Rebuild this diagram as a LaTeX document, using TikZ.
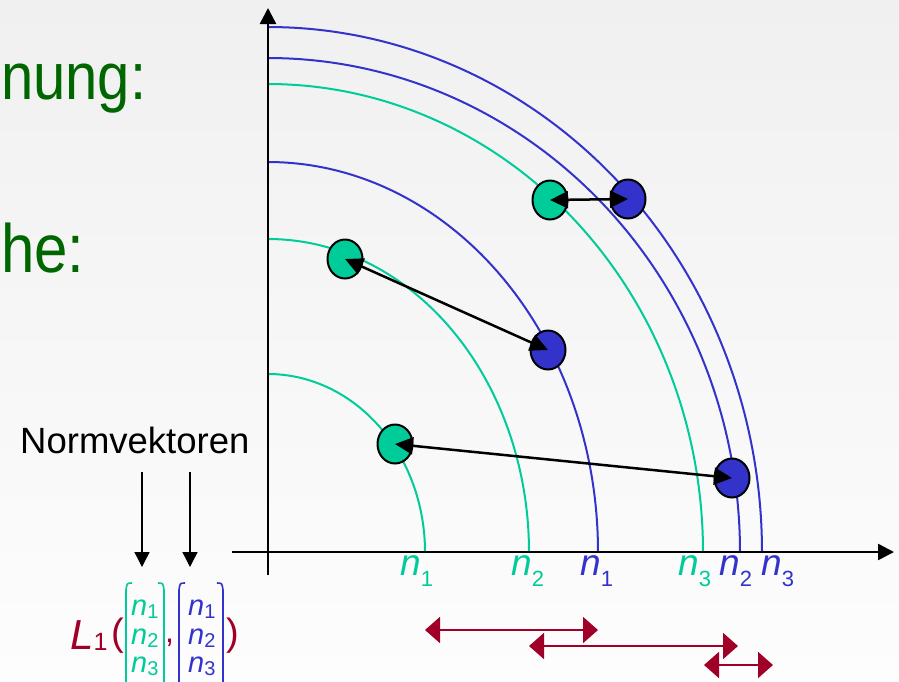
\documentclass[tikz,border=0pt]{standalone}
\usepackage{fontspec}
\setmainfont{Liberation Sans}
\usepackage{graphicx}
\usetikzlibrary{arrows.meta,shapes.geometric}
\definecolor{tealc}{HTML}{00CC99}
\definecolor{bluec}{HTML}{3333CC}
\definecolor{redc}{HTML}{A00028}
\definecolor{greentxt}{HTML}{006600}
\definecolor{bgtop}{HTML}{F0F0F0}
\definecolor{bgbot}{HTML}{FDFDFD}
\newcommand{\axlab}[1]{{\fontsize{37}{40}\selectfont\itshape n}{\fontsize{22}{24}\selectfont\raisebox{-11pt}{#1}}}
\newcommand{\vlab}[1]{{\fontsize{29}{30}\selectfont\itshape n}{\fontsize{20}{22}\selectfont\raisebox{-3pt}{#1}}}
\begin{document}
\begin{tikzpicture}[x=1pt,y=-1pt,
  arcg/.style={tealc, line width=2pt},
  arcb/.style={bluec, line width=2pt},
  gdot/.style={ellipse, draw=black, line width=2pt, fill=tealc, minimum width=35pt, minimum height=39pt, inner sep=0pt},
  bdot/.style={ellipse, draw=black, line width=2pt, fill=bluec, minimum width=35pt, minimum height=39pt, inner sep=0pt},
  conn/.style={black, line width=2.5pt, {Triangle[length=18pt,width=17pt]}-{Triangle[length=18pt,width=17pt]}},
  axis/.style={black, line width=2.5pt, -{Triangle[length=16pt,width=16pt]}},
  down/.style={black, line width=1.4pt, -{Triangle[length=15pt,width=15pt]}},
  redarr/.style={redc, line width=2pt, {Triangle[length=15pt,width=26pt]}-{Triangle[length=15pt,width=26pt]}},
  lab/.style={anchor=base west, inner sep=0pt}
]
\useasboundingbox (0,0) rectangle (899,681);
\clip (0,0) rectangle (899,681);
\shade[top color=bgtop, bottom color=bgbot] (0,0) rectangle (899,681);

% arcs
\draw[arcg] plot[domain=0:90,samples=90,smooth] ({268+157*cos(\x)},{552-178*sin(\x)});
\draw[arcg] plot[domain=0:90,samples=90,smooth] ({268+261*cos(\x)},{552-313*sin(\x)});
\draw[arcb] plot[domain=0:90,samples=90,smooth] ({268+330*cos(\x)},{552-390*sin(\x)});
\draw[arcg] plot[domain=0:90,samples=90,smooth] ({268+435*cos(\x)},{552-468*sin(\x)});
\draw[arcb] plot[domain=0:90,samples=90,smooth] ({268+472*cos(\x)},{552-494*sin(\x)});
\draw[arcb] plot[domain=0:90,samples=90,smooth] ({268+494*cos(\x)},{552-525*sin(\x)});

% axes
\coordinate (yb) at (268,575);
\coordinate (yt) at (268,8);
\coordinate (xl) at (232,552);
\coordinate (xr) at (894,552);
\draw[axis] (yb) -- (yt);
\draw[axis] (xl) -- (xr);

% axis labels
\node[lab, text=tealc] (ln1g) at (400,575) {\axlab{1}};
\node[lab, text=tealc] (ln2g) at (511,575) {\axlab{2}};
\node[lab, text=bluec] (ln1b) at (580,575) {\axlab{1}};
\node[lab, text=tealc] (ln3g) at (678,575) {\axlab{3}};
\node[lab, text=bluec] (ln2b) at (719,575) {\axlab{2}};
\node[lab, text=bluec] (ln3b) at (761,575) {\axlab{3}};

% dots
\node[gdot] (g1) at (550,200) {};
\node[bdot] (b1) at (628,199) {};
\node[gdot] (g2) at (345,259) {};
\node[bdot] (b2) at (548,350) {};
\node[gdot] (g3) at (395,444) {};
\node[bdot] (b3) at (732,478) {};
\draw[conn] (g1.center) -- (b1.center);
\draw[conn] (g2.center) -- (b2.center);
\draw[conn] (g3.center) -- (b3.center);

% left texts
\node[anchor=base west, inner sep=0pt, text=greentxt] (t1) at (1,99) {\scalebox{1}[1.14]{\fontsize{58}{60}\selectfont nung:}};
\node[anchor=base west, inner sep=0pt, text=greentxt] (t2) at (1,272) {\scalebox{1}[1.14]{\fontsize{60}{62}\selectfont he:}};
\node[lab, text=black] (nv) at (20,453) {\fontsize{36.5}{40}\selectfont Normvektoren};

% down arrows
\coordinate (d1s) at (142,472);
\coordinate (d1e) at (142,567);
\coordinate (d2s) at (190,472);
\coordinate (d2e) at (190,567);
\draw[down] (d1s) -- (d1e);
\draw[down] (d2s) -- (d2e);

% L1 expression
\node[lab, text=redc] (L) at (70,649) {{\fontsize{42}{44}\selectfont\itshape L}{\fontsize{25}{26}\selectfont\raisebox{-1pt}{1}}};
\node[lab, text=redc] (lp) at (111,645) {\fontsize{38}{40}\selectfont (};
\node[lab, text=redc] (cm) at (165,642) {\fontsize{32}{34}\selectfont ,};
\node[lab, text=redc] (rp) at (226,645) {\fontsize{38}{40}\selectfont )};
% green vector
\draw[tealc, line width=1.6pt] (132,583) .. controls (127,583) .. (126,590) -- (126,700);
\draw[tealc, line width=1.6pt] (158,583) .. controls (163,583) .. (164,590) -- (164,700);
\node[lab, text=tealc] (gv1) at (131,615) {\vlab{1}};
\node[lab, text=tealc] (gv2) at (131,644) {\vlab{2}};
\node[lab, text=tealc] (gv3) at (131,672) {\vlab{3}};
% blue vector
\draw[bluec, line width=1.6pt] (185,583) .. controls (180,583) .. (179,590) -- (179,700);
\draw[bluec, line width=1.6pt] (217,583) .. controls (222,583) .. (223,590) -- (223,700);
\node[lab, text=bluec] (bv1) at (188,615) {\vlab{1}};
\node[lab, text=bluec] (bv2) at (188,644) {\vlab{2}};
\node[lab, text=bluec] (bv3) at (188,672) {\vlab{3}};

% red interval arrows
\coordinate (r1a) at (425,630);
\coordinate (r1b) at (598,630);
\coordinate (r2a) at (529,646);
\coordinate (r2b) at (738,646);
\coordinate (r3a) at (704,665);
\coordinate (r3b) at (773,665);
\draw[redarr] (r1a) -- (r1b);
\draw[redarr] (r2a) -- (r2b);
\draw[redarr] (r3a) -- (r3b);
\end{tikzpicture}
\end{document}
